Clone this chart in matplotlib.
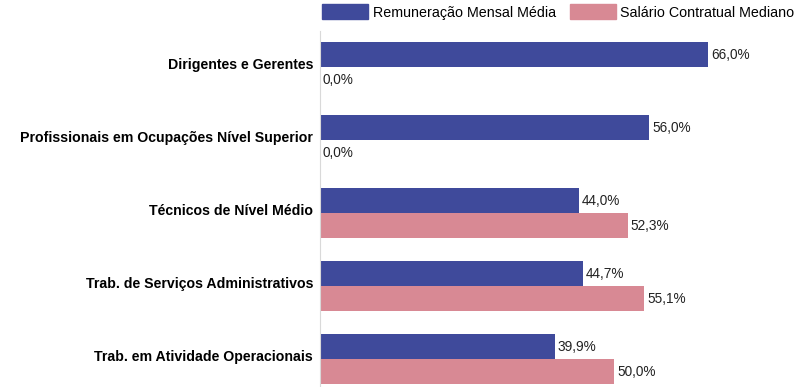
import numpy as np
import matplotlib.pyplot as plt
from matplotlib.patches import Patch

categorias = ['Dirigentes e Gerentes',
              'Profissionais em Ocupações Nível Superior',
              'Técnicos de Nível Médio',
              'Trab. de Serviços Administrativos',
              'Trab. em Atividade Operacionais']
remuneracao = [66.0, 56.0, 44.0, 44.7, 39.9]
salario = [0.0, 0.0, 52.3, 55.1, 50.0]
series = ['Remuneração Mensal Média', 'Salário Contratual Mediano']

azul = '#3f4a9b'
rosa = '#d88994'

plt.rcParams['font.family'] = ['Liberation Sans', 'DejaVu Sans']

fig = plt.figure(figsize=(8, 3.87), dpi=100)
ax = fig.add_axes([0.4, 0.0, 0.6, 0.921])

y = np.arange(len(categorias))
h = 0.34
ax.barh(y - h / 2, remuneracao, height=h, color=azul)
ax.barh(y + h / 2, salario, height=h, color=rosa)

for i in range(len(categorias)):
    ax.text(remuneracao[i] + 0.5, y[i] - h / 2, f'{remuneracao[i]:.1f}%'.replace('.', ','),
            va='center', ha='left', fontsize=9.8, color='#222222')
    ax.text(salario[i] + 0.5, y[i] + h / 2, f'{salario[i]:.1f}%'.replace('.', ','),
            va='center', ha='left', fontsize=9.8, color='#222222')

ax.set_xlim(0, 81.6)
ax.set_ylim(4.38, -0.5)
# rótulos um pouco acima do centro do grupo, como no original
ax.set_yticks(y - 0.055)
ax.set_yticklabels(categorias, fontweight='bold', fontsize=10.2)
ax.tick_params(axis='y', length=0, pad=5)
ax.set_xticks([])
for s in ['top', 'right', 'bottom']:
    ax.spines[s].set_visible(False)
ax.spines['left'].set_color('#d9d9d9')

handles = [Patch(color=azul), Patch(color=rosa)]
fig.legend(handles, series, loc='upper left', bbox_to_anchor=(0.387, 1.022), ncol=2,
           frameon=False, fontsize=10.3, handlelength=3.2, handleheight=1.2,
           handletextpad=0.3, columnspacing=1.0)

fig.savefig('out.png', dpi=100)
